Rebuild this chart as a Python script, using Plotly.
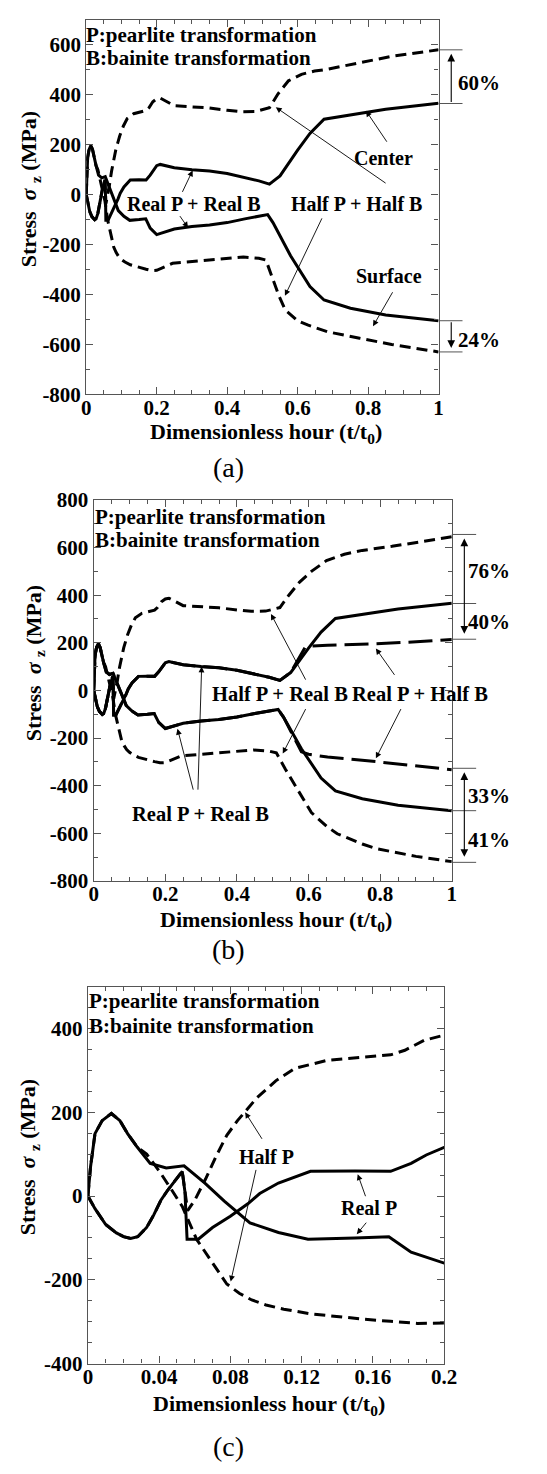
import plotly.graph_objects as go

# ---------------- data ----------------
# Real P + Real B (solid) : center and surface
x_rr_c = [0, 0.004, 0.01, 0.016, 0.02, 0.024, 0.028, 0.033, 0.037, 0.041, 0.045, 0.049, 0.053, 0.0545, 0.0557,
          0.062, 0.07, 0.08, 0.09, 0.0965, 0.107, 0.125, 0.15, 0.17, 0.1815, 0.19, 0.2, 0.21, 0.25, 0.3, 0.35,
          0.4, 0.45, 0.49, 0.52, 0.55, 0.6, 0.635, 0.675, 0.75, 0.85, 1.0]
y_rr_c = [0, -30, -68, -88, -97, -101, -97, -75, -45, -10, 15, 38, 59, 10, -103,
          -103, -75, -48, -18, 6, 31, 59, 60, 59, 78, 98, 116, 121, 108, 100, 95,
          85, 70, 55, 42, 75, 178, 245, 302, 320, 342, 366]
x_rr_s = [0, 0.0015, 0.004, 0.008, 0.0132, 0.018, 0.0223, 0.0277, 0.035, 0.044, 0.054, 0.0657, 0.0766,
          0.091, 0.107, 0.1236, 0.15, 0.169, 0.1815, 0.2, 0.25, 0.3, 0.35, 0.4, 0.45, 0.515, 0.53, 0.58,
          0.635, 0.675, 0.75, 0.85, 1.0]
y_rr_s = [0, 70, 149, 180, 197, 180, 149, 117, 78, 67, 72, 31, -12,
          -64, -87, -103, -100, -97, -134, -160, -138, -128, -122, -112, -97, -80, -112, -245,
          -368, -422, -455, -482, -505]

# Half P + Half B (short dash) : center and surface
x_hh_c = [0, 0.004, 0.01, 0.016, 0.02, 0.024, 0.028, 0.033, 0.037, 0.041, 0.045, 0.049, 0.053, 0.056, 0.06,
          0.066, 0.072, 0.078, 0.084, 0.089, 0.095, 0.1055, 0.1164, 0.1345, 0.17, 0.178, 0.189, 0.2, 0.21,
          0.25, 0.3, 0.35, 0.4, 0.44, 0.48, 0.52, 0.544, 0.574, 0.611, 0.648, 0.684, 0.776, 0.867, 1.0]
y_hh_c = [0, -30, -68, -88, -97, -101, -97, -75, -45, -10, 15, 38, 59, -35, -10,
          40, 95, 145, 180, 205, 235, 275, 305, 324, 337, 348, 372, 384, 387,
          356, 351, 347, 338, 332, 333, 348, 403, 456, 482, 495, 502, 528, 554, 580]
x_hh_s = [0, 0.0015, 0.004, 0.008, 0.0132, 0.018, 0.0223, 0.0277, 0.033, 0.04, 0.047, 0.053, 0.061, 0.07,
          0.078, 0.085, 0.092, 0.1, 0.11, 0.125, 0.14, 0.155, 0.17, 0.185, 0.2, 0.245, 0.3, 0.355, 0.41,
          0.446, 0.49, 0.51, 0.53, 0.547, 0.565, 0.6, 0.63, 0.684, 0.776, 0.867, 1.0]
y_hh_s = [0, 70, 149, 180, 197, 180, 149, 117, 100, 60, 15, -25, -103, -160,
          -210, -232, -248, -260, -270, -281, -288, -294, -299, -304, -303, -275, -268, -262, -255,
          -250, -255, -262, -340, -405, -462, -505, -523, -549, -575, -600, -630]

# Half P + Real B (short dash, panel b) : part after bainite start
x_hr_c_late = [0.545, 0.575, 0.608, 0.65, 0.7, 0.75, 0.833, 0.92, 1.0]
y_hr_c_late = [400, 455, 500, 545, 572, 588, 605, 625, 645]
x_hr_s_late = [0.535, 0.563, 0.608, 0.65, 0.68, 0.75, 0.788, 0.9, 1.0]
y_hr_s_late = [-330, -402, -513, -570, -602, -645, -664, -697, -719]

# Real P + Half B (long dash, panel b) : part after bainite start
x_rh_c_late = [0.59, 0.6, 0.653, 0.788, 0.923, 1.0]
y_rh_c_late = [180, 186, 190, 196, 206, 214]
x_rh_s_late = [0.58, 0.6, 0.653, 0.788, 0.923, 1.0]
y_rh_s_late = [-258, -268, -280, -299, -320, -333]

# bracket levels at the right edge
brk_a_top = [580, 365]
brk_a_bot = [-505, -630]
brk_b_top = [655, 365, 215]
brk_b_bot = [-327, -505, -722]

# axis tick labels
ticks_y_ab = [-800, -600, -400, -200, 0, 200, 400, 600, 800]
ticks_y_c = [-400, -200, 0, 200, 400]
ticks_x_ab = [0, 0.2, 0.4, 0.6, 0.8, 1.0]
ticks_x_c = [0, 0.04, 0.08, 0.12, 0.16, 0.2]
ticktext_x_ab = ["0", "0.2", "0.4", "0.6", "0.8", "1"]
ticktext_x_c = ["0", "0.04", "0.08", "0.12", "0.16", "0.2"]


def early(xs, ys, xmax):
    xo = [x for x in xs if x <= xmax]
    return xo, ys[:len(xo)]


ex, ey = early(x_hh_c, y_hh_c, 0.52)
x_hr_c, y_hr_c = ex + x_hr_c_late, ey + y_hr_c_late
ex, ey = early(x_hh_s, y_hh_s, 0.51)
x_hr_s, y_hr_s = ex + x_hr_s_late, ey + y_hr_s_late
ex, ey = early(x_rr_c, y_rr_c, 0.55)
x_rh_c, y_rh_c = ex + x_rh_c_late, ey + y_rh_c_late
ex, ey = early(x_rr_s, y_rr_s, 0.53)
x_rh_s, y_rh_s = ex + x_rh_s_late, ey + y_rh_s_late

# ---------------- layout geometry ----------------
W, H = 547, 1474
FONT = "Liberation Serif, Times New Roman, Times, serif"

dom = {
    "a": dict(x=[84 / W, 448.3 / W], y=[1 - 388.7 / H, 1 - 8.0 / H], xr=[0, 1], yr=[-800, 700]),
    "b": dict(x=[91.7 / W, 462.0 / W], y=[1 - 883.3 / H, 1 - 496.0 / H], xr=[0, 1], yr=[-800, 800]),
    "c": dict(x=[85.7 / W, 454.0 / W], y=[1 - 1374.0 / H, 1 - 990.7 / H], xr=[0, 0.2], yr=[-400, 500]),
}
axid = {"a": ("x", "y"), "b": ("x2", "y2"), "c": ("x3", "y3")}


def xpaper(p, xv):
    d = dom[p]
    return d["x"][0] + (xv - d["xr"][0]) / (d["xr"][1] - d["xr"][0]) * (d["x"][1] - d["x"][0])


fig = go.Figure()

SOLID = dict(color="black", width=3)
SHORT = dict(color="black", width=3, dash="11px,6px")
LONG = dict(color="black", width=3, dash="24px,8px")


def add_line(p, xs, ys, line):
    xa, ya = axid[p]
    fig.add_trace(go.Scatter(x=xs, y=ys, mode="lines", line=line, xaxis=xa, yaxis=ya,
                             showlegend=False, hoverinfo="skip"))


# panel (a)
add_line("a", x_hh_c, y_hh_c, SHORT)
add_line("a", x_hh_s, y_hh_s, SHORT)
add_line("a", x_rr_c, y_rr_c, SOLID)
add_line("a", x_rr_s, y_rr_s, SOLID)
# panel (b)
add_line("b", x_hr_c, y_hr_c, SHORT)
add_line("b", x_hr_s, y_hr_s, SHORT)
add_line("b", x_rh_c, y_rh_c, LONG)
add_line("b", x_rh_s, y_rh_s, LONG)
add_line("b", x_rr_c, y_rr_c, SOLID)
add_line("b", x_rr_s, y_rr_s, SOLID)
# panel (c)
add_line("c", x_hh_c, y_hh_c, SHORT)
add_line("c", x_hh_s, y_hh_s, SHORT)
add_line("c", x_rr_c, y_rr_c, SOLID)
add_line("c", x_rr_s, y_rr_s, SOLID)

# bracket dots
for p, vals in (("a", [brk_a_top[0], brk_a_bot[1]]), ("b", [brk_b_top[0], brk_b_top[2], brk_b_bot[0], brk_b_bot[2]])):
    xa, ya = axid[p]
    fig.add_trace(go.Scatter(x=[1.033] * len(vals), y=vals, mode="markers", cliponaxis=False,
                             marker=dict(color="black", size=8), xaxis=xa, yaxis=ya,
                             showlegend=False, hoverinfo="skip"))

annotations = []
shapes = []


def bold(s, b=True):
    return f"<b>{s}</b>" if b else s


def txt(p, x, y, s, size=20, b=True, xanchor="center", paper_x=False):
    xa, ya = axid[p]
    annotations.append(dict(
        x=xpaper(p, x) if paper_x else x, y=y, xref="paper" if paper_x else xa, yref=ya,
        text=bold(s, b), showarrow=False, xanchor=xanchor, yanchor="middle", borderpad=0,
        font=dict(family=FONT, size=size, color="black")))


def arr(p, x, y, ax, ay, width=0.9, size=1.3):
    xa, ya = axid[p]
    annotations.append(dict(x=x, y=y, ax=ax, ay=ay, xref=xa, yref=ya, axref=xa, ayref=ya,
                            text="", showarrow=True, arrowhead=2, arrowsize=size, arrowwidth=width,
                            arrowcolor="black", standoff=0, startstandoff=0))


def vbracket(p, x, y_tip, y_tail, both=False):
    xa, ya = axid[p]
    annotations.append(dict(x=xpaper(p, x), y=y_tip, xref="paper", yref=ya, axref="pixel", ax=0,
                            ayref=ya, ay=y_tail, text="", showarrow=True, arrowhead=2,
                            startarrowhead=2, arrowside="end+start" if both else "end",
                            arrowsize=1.4, arrowwidth=1.1, arrowcolor="black", standoff=4,
                            startstandoff=4 if both else 0))


def hline(p, yv):
    xa, ya = axid[p]
    shapes.append(dict(type="line", xref="paper", yref=ya, x0=xpaper(p, 1.0), x1=xpaper(p, 1.068),
                       y0=yv, y1=yv, line=dict(color="#555", width=1)))


# ---- panel (a) texts ----
txt("a", -0.003, 641, "P:pearlite transformation", size=21, xanchor="left", paper_x=True)
txt("a", -0.003, 546, "B:bainite transformation", size=21, xanchor="left", paper_x=True)
txt("a", 0.305, -37, "Real P + Real B")
arr("a", 0.302, 97, 0.271, 5)
arr("a", 0.289, -133, 0.263, -80)
txt("a", 0.767, -37, "Half P + Half B")
arr("a", 0.538, 350, 0.854, 42)
arr("a", 0.564, -405, 0.671, -89)
txt("a", 0.845, 147, "Center")
arr("a", 0.794, 336, 0.856, 206)
txt("a", 0.858, -326, "Surface")
arr("a", 0.814, -527, 0.872, -385)
for v in brk_a_top + brk_a_bot:
    hline("a", v)
vbracket("a", 1.036, brk_a_top[0], brk_a_top[1])
vbracket("a", 1.036, brk_a_bot[1], brk_a_bot[0])
txt("a", 1.114, 449, "60%", size=21, paper_x=True)
txt("a", 1.114, -582, "24%", size=21, paper_x=True)

# ---- panel (b) texts ----
txt("b", 0.0, 727, "P:pearlite transformation", size=21, xanchor="left", paper_x=True)
txt("b", 0.0, 631, "B:bainite transformation", size=21, xanchor="left", paper_x=True)
txt("b", 0.52, -17, "Half P + Real B", size=20.5)
arr("b", 0.495, 321, 0.594, 39)
arr("b", 0.528, -265, 0.594, -72)
txt("b", 0.91, -17, "Real P + Half B", size=20.5)
arr("b", 0.788, 176, 0.843, 59)
arr("b", 0.788, -285, 0.86, -72)
txt("b", 0.299, -520, "Real P + Real B", size=20.5)
arr("b", 0.234, -161, 0.279, -423)
arr("b", 0.3015, 100, 0.291, -423)
for v in brk_b_top + brk_b_bot:
    hline("b", v)
vbracket("b", 1.035, brk_b_top[0], brk_b_top[2], both=True)
vbracket("b", 1.035, brk_b_bot[0], brk_b_bot[2], both=True)
txt("b", 1.103, 500, "76%", size=21, paper_x=True)
txt("b", 1.103, 287, "40%", size=21, paper_x=True)
txt("b", 1.103, -444, "33%", size=21, paper_x=True)
txt("b", 1.103, -630, "41%", size=21, paper_x=True)

# ---- panel (c) texts ----
txt("c", 0.0001, 466, "P:pearlite transformation", size=21, xanchor="left", paper_x=True)
txt("c", 0.0001, 407, "B:bainite transformation", size=21, xanchor="left", paper_x=True)
txt("c", 0.1001, 94, "Half P")
arr("c", 0.0883, 200, 0.0983, 133)
arr("c", 0.0802, -204, 0.0946, 66)
txt("c", 0.158, -29, "Real P")
arr("c", 0.1515, 52, 0.1562, -4)
arr("c", 0.151, -91, 0.157, -60)


# ---- axis titles and panel letters (paper coordinates) ----
def ptxt(px, py, s, size, b=True, angle=0):
    annotations.append(dict(x=px / W, y=1 - py / H, xref="paper", yref="paper", text=bold(s, b),
                            showarrow=False, xanchor="center", yanchor="middle", textangle=angle,
                            borderpad=0, font=dict(family=FONT, size=size, color="black")))


XT = "Dimensionless hour (t/t<sub>0</sub>)"
YT = "Stress  <i>σ</i> <sub>z</sub> (MPa)"
ptxt(270, 428, XT, 22)
ptxt(280, 924, XT, 22)
ptxt(273, 1416, XT, 22)
ptxt(26, 180, YT, 22, angle=-90)
ptxt(31, 662, YT, 22, angle=-90)
ptxt(25, 1164, YT, 22, angle=-90)
ptxt(231, 463, "(a)", 28, b=False)
ptxt(231, 953, "(b)", 28, b=False)
ptxt(231, 1458, "(c)", 28, b=False)

# ---------------- axes ----------------
TICKFONT = dict(family=FONT, size=21, color="black", weight="bold")


def axis_common():
    return dict(showline=True, linecolor="#555", linewidth=1.3, mirror="allticks", ticks="inside",
                ticklen=7, tickwidth=1.2, tickcolor="#555", showgrid=False, zeroline=False,
                tickfont=TICKFONT, fixedrange=True)


layout_axes = {}
specs = {
    "a": dict(xt=ticks_x_ab, xtt=ticktext_x_ab, xm=0.05, yt=ticks_y_ab, ym=100),
    "b": dict(xt=ticks_x_ab, xtt=ticktext_x_ab, xm=0.05, yt=ticks_y_ab, ym=100),
    "c": dict(xt=ticks_x_c, xtt=ticktext_x_c, xm=0.01, yt=ticks_y_c, ym=50),
}
for i, p in enumerate(["a", "b", "c"]):
    d = dom[p]
    s = specs[p]
    xa, ya = axid[p]
    xkey = "xaxis" if i == 0 else f"xaxis{i + 1}"
    ykey = "yaxis" if i == 0 else f"yaxis{i + 1}"
    xd = axis_common()
    xd.update(domain=d["x"], range=d["xr"], anchor=ya, tickvals=s["xt"], ticktext=s["xtt"],
              ticklabelstandoff=-6,
              minor=dict(ticks="inside", ticklen=4, tickwidth=1, tickcolor="#555", dtick=s["xm"],
                         tick0=0, showgrid=False))
    yd = axis_common()
    yd.update(domain=d["y"], range=d["yr"], anchor=xa, tickvals=s["yt"],
              ticktext=[str(v) for v in s["yt"]],
              minor=dict(ticks="inside", ticklen=4, tickwidth=1, tickcolor="#555", dtick=s["ym"],
                         tick0=0, showgrid=False))
    layout_axes[xkey] = xd
    layout_axes[ykey] = yd

fig.update_layout(
    width=W, height=H, margin=dict(l=0, r=0, t=0, b=0),
    paper_bgcolor="white", plot_bgcolor="white",
    annotations=annotations, shapes=shapes, showlegend=False,
    font=dict(family=FONT, color="black"),
    **layout_axes,
)

fig.write_html("out.html")
